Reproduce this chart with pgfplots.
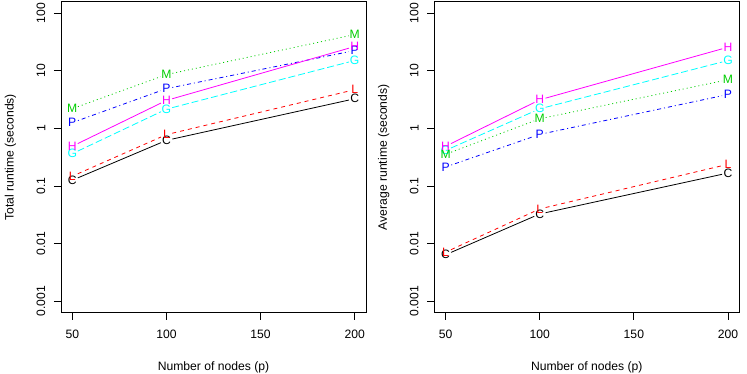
\documentclass[border=0pt]{standalone}
\usepackage{fontspec}
\setmainfont{Liberation Sans}
\usepackage{pgfplots}
\usepackage{pgfplotstable}
\pgfplotsset{compat=1.18}

\definecolor{rblack}{HTML}{000000}
\definecolor{rred}{HTML}{FF0000}
\definecolor{rgreen}{HTML}{00CD00}
\definecolor{rblue}{HTML}{0000FF}
\definecolor{rcyan}{HTML}{00FFFF}
\definecolor{rmagenta}{HTML}{FF00FF}

% total runtime (seconds)
\pgfplotstableread{
p   C      L      M     P     G      H
50  0.126  0.148  2.2   1.26  0.364  0.49
100 0.62   0.78   8.6   4.9   2.16   3.06
200 3.27   4.7    42.6  22.5  15.1   26.4
}\totaltab

% average runtime (seconds)
\pgfplotstableread{
p   C       L       M     P      G     H
50  0.0064  0.0071  0.355 0.214  0.415 0.49
100 0.0327  0.040   1.47  0.787  2.19  3.14
200 0.168   0.238   7.0   3.88   15.1  25.7
}\avgtab

\pgfplotsset{
  rpanel/.style={
    scale only axis, width=305bp, height=311bp,
    xmin=44, xmax=206,
    ymin=0.000630957, ymax=158.489,
    xtick={50,100,150,200},
    ytick={0.001,0.01,0.1,1,10,100},
    yticklabels={0.001,0.01,0.1,1,10,100},
    yminorticks=false,
    tick align=outside,
    xtick pos=bottom, ytick pos=left,
    major tick length=7bp,
    tick style={black, line width=0.8bp},
    axis line style={black, line width=0.8bp},
    font=\fontsize{12.2}{14}\selectfont,
    /pgf/number format/assume math mode=true,
    xticklabel style={anchor=north, inner sep=0pt},
    xticklabel shift=10bp,
    yticklabel style={rotate=90, anchor=south, inner sep=0pt},
    yticklabel shift=8.5bp,
    xlabel style={at={(axis description cs:0.5,0)}, anchor=center, yshift=-55bp},
    ylabel style={at={(axis description cs:0,0.5)}, anchor=center, yshift=50.5bp},
    xlabel={Number of nodes (p)},
  },
  ldash/.style={dash pattern=on 4bp off 4bp},
  ldot/.style={dash pattern=on 1bp off 3bp},
  ldotdash/.style={dash pattern=on 1bp off 3bp on 4bp off 3bp},
  llong/.style={dash pattern=on 7bp off 3bp},
}

% table, column, colour, line style, letter
\newcommand\drawseries[5]{%
  \addplot[#3, #4, line width=0.8bp, shorten <=6bp, shorten >=6bp,
    skip coords between index={2}{3}] table[x=p, y=#2] {#1};
  \addplot[#3, #4, line width=0.8bp, shorten <=6bp, shorten >=6bp,
    skip coords between index={0}{1}] table[x=p, y=#2] {#1};
  \addplot[#3, only marks, mark=text, text mark={#5}, text mark as node=true,
    mark options={solid},
    text mark style={font=\fontsize{12.2}{12}\selectfont, inner sep=0pt, anchor=center}]
    table[x=p, y=#2] {#1};
}

\begin{document}
\begin{tikzpicture}
\path[use as bounding box] (0,0) rectangle (747bp,374bp);

\begin{semilogyaxis}[rpanel, at={(61bp,61.3bp)}, anchor=south west,
  ylabel={Total runtime (seconds)}]
\drawseries{\totaltab}{C}{rblack}{solid}{C}
\drawseries{\totaltab}{L}{rred}{ldash}{L}
\drawseries{\totaltab}{G}{rcyan}{llong}{G}
\drawseries{\totaltab}{M}{rgreen}{ldot}{M}
\drawseries{\totaltab}{P}{rblue}{ldotdash}{P}
\drawseries{\totaltab}{H}{rmagenta}{solid}{H}
\end{semilogyaxis}

\begin{semilogyaxis}[rpanel, at={(434.3bp,61.3bp)}, anchor=south west,
  ylabel={Average runtime (seconds)}]
\drawseries{\avgtab}{C}{rblack}{solid}{C}
\drawseries{\avgtab}{L}{rred}{ldash}{L}
\drawseries{\avgtab}{G}{rcyan}{llong}{G}
\drawseries{\avgtab}{M}{rgreen}{ldot}{M}
\drawseries{\avgtab}{P}{rblue}{ldotdash}{P}
\drawseries{\avgtab}{H}{rmagenta}{solid}{H}
\end{semilogyaxis}
\end{tikzpicture}
\end{document}
